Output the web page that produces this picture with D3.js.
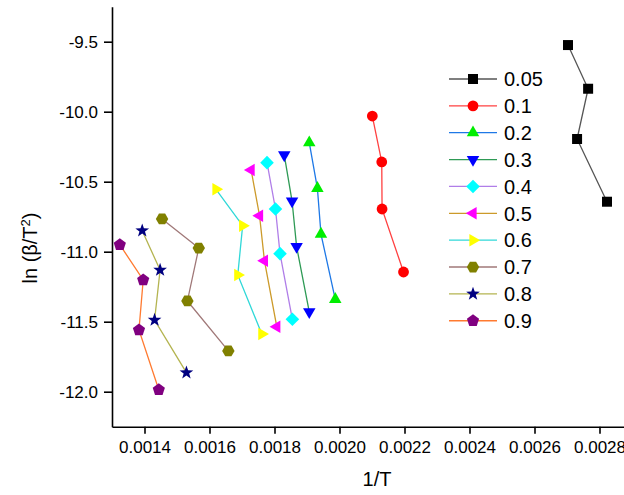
<!DOCTYPE html>
<html><head><meta charset="utf-8">
<script src="https://cdn.jsdelivr.net/npm/d3@7"></script>
<style>html,body{margin:0;padding:0;background:#fff;overflow:hidden}svg{display:block;font-family:Arial,"Liberation Sans",sans-serif}</style>
</head><body>
<svg id="chart" width="624" height="495"></svg>
<script>
// ---- data ----
const seriesLabels = ["0.05","0.1","0.2","0.3","0.4","0.5","0.6","0.7","0.8","0.9"];
const x005 = [0.002703, 0.002765, 0.002731, 0.002823];
const y005 = [-9.524, -9.836, -10.195, -10.643];
const x01 = [0.002101, 0.002130, 0.002131, 0.002197];
const y01 = [-10.031, -10.359, -10.695, -11.145];
const x02 = [0.001907, 0.001932, 0.001943, 0.001987];
const y02 = [-10.221, -10.547, -10.874, -11.340];
const x03 = [0.001830, 0.001854, 0.001868, 0.001907];
const y03 = [-10.309, -10.638, -10.964, -11.429];
const x04 = [0.001777, 0.001803, 0.001817, 0.001855];
const y04 = [-10.364, -10.695, -11.014, -11.483];
const x05 = [0.001728, 0.001754, 0.001769, 0.001807];
const y05 = [-10.416, -10.743, -11.064, -11.536];
const x06 = [0.001620, 0.001702, 0.001687, 0.001761];
const y06 = [-10.554, -10.814, -11.166, -11.588];
const x07 = [0.001454, 0.001567, 0.001532, 0.001658];
const y07 = [-10.766, -10.974, -11.352, -11.709];
const x08 = [0.001393, 0.001448, 0.001431, 0.001529];
const y08 = [-10.850, -11.131, -11.488, -11.864];
const x09 = [0.001324, 0.001396, 0.001383, 0.001444];
const y09 = [-10.950, -11.202, -11.559, -11.986];
const xTicks = [0.0014, 0.0016, 0.0018, 0.0020, 0.0022, 0.0024, 0.0026, 0.0028];
const yTicks = [-9.5, -10.0, -10.5, -11.0, -11.5, -12.0];

// ---- styles ----
const lineColors   = ["#555555","#ff4040","#1e78e6","#2e9a55","#b07ee8","#cc9a2a","#30d8d8","#a07878","#b4b450","#ff7a30"];
const markerColors = ["#000000","#ff0000","#00ee00","#0000ff","#00ffff","#ff00ff","#ffff00","#808000","#000080","#800080"];
const markerShapes = ["square","circle","triUp","triDown","diamond","triLeft","triRight","hexagon","star","pentagon"];

const xsAll = [x005,x01,x02,x03,x04,x05,x06,x07,x08,x09];
const ysAll = [y005,y01,y02,y03,y04,y05,y06,y07,y08,y09];
const series = seriesLabels.map((lab,i)=>({label:lab, pts: xsAll[i].map((x,j)=>({x, y: ysAll[i][j]})),
  line: lineColors[i], fill: markerColors[i], shape: markerShapes[i]}));

function poly(n, r, rot){
  const p=[]; for(let k=0;k<n;k++){const a=rot+k*2*Math.PI/n; p.push([r*Math.cos(a), r*Math.sin(a)]);}
  return "M"+p.map(q=>q[0].toFixed(2)+","+q[1].toFixed(2)).join("L")+"Z";
}
function starPath(ro, ri){
  const p=[]; for(let k=0;k<10;k++){const r=k%2?ri:ro; const a=-Math.PI/2+k*Math.PI/5; p.push([r*Math.cos(a), r*Math.sin(a)]);}
  return "M"+p.map(q=>q[0].toFixed(2)+","+q[1].toFixed(2)).join("L")+"Z";
}
function shapePath(s){
  const t=7.2; // triangle circumradius
  switch(s){
    case "square": return "M-5,-5H5V5H-5Z";
    case "circle": return d3.symbol(d3.symbolCircle, Math.PI*5.4*5.4)();
    case "triUp": return poly(3,t,-Math.PI/2);
    case "triDown": return poly(3,t,Math.PI/2);
    case "triLeft": return poly(3,t,Math.PI);
    case "triRight": return poly(3,t,0);
    case "diamond": return "M0,-6.8L6.8,0L0,6.8L-6.8,0Z";
    case "hexagon": return poly(6,6.2,0);
    case "star": return starPath(7.2,2.9);
    case "pentagon": return poly(5,6.4,-Math.PI/2);
  }
}

const svg = d3.select("#chart");
const x = d3.scaleLinear().domain([0.0013, 0.0029]).range([112, 632]);
const y = d3.scaleLinear().domain([-12.25, -9.25]).range([426.7, 6.7]);

// axes
const xAxis = d3.axisBottom(x).tickValues(xTicks).tickFormat(d3.format(".4f")).tickSizeOuter(0).tickSizeInner(7).tickPadding(7);
const yAxis = d3.axisLeft(y).tickValues(yTicks).tickFormat(d3.format(".1f")).tickSizeOuter(0).tickSizeInner(8).tickPadding(6);
const gx = svg.append("g").attr("transform","translate(0,426.7)").call(xAxis);
const gy = svg.append("g").attr("transform","translate(112,0)").call(yAxis);
[gx,gy].forEach(g=>{
  g.select(".domain").attr("stroke","#000").attr("stroke-width",1.6);
  g.selectAll(".tick line").attr("stroke","#000").attr("stroke-width",1.6);
  g.selectAll(".tick text").attr("fill","#000").style("font-size","17px").style("font-family","Arial, 'Liberation Sans', sans-serif");
});
gy.selectAll(".tick text").text(d=>d3.format(".1f")(d).replace("−","-"));

// axis titles
svg.append("text").attr("x",377).attr("y",486).attr("text-anchor","middle").style("font-size","20px").text("1/T");
const yt = svg.append("text").attr("transform","translate(37,248) rotate(-90)").attr("text-anchor","middle").style("font-size","20px");
yt.append("tspan").text("ln (β/T");
yt.append("tspan").attr("dy",-7).style("font-size","13px").text("2");
yt.append("tspan").attr("dy",7).text(")");

// lines + markers
const lineGen = d3.line().x(d=>x(d.x)).y(d=>y(d.y));
const gs = svg.append("g").selectAll("g").data(series).join("g");
gs.append("path").attr("d",d=>lineGen(d.pts)).attr("fill","none").attr("stroke",d=>d.line).attr("stroke-width",1.3);
gs.each(function(s){
  d3.select(this).selectAll("path.m").data(s.pts).join("path").attr("class","m")
    .attr("d",shapePath(s.shape)).attr("transform",d=>`translate(${x(d.x)},${y(d.y)})`).attr("fill",s.fill);
});

// legend
const lg = svg.append("g").selectAll("g").data(series).join("g")
  .attr("transform",(d,i)=>`translate(0,${79+i*26.86})`);
lg.append("line").attr("x1",449).attr("x2",497).attr("stroke",d=>d.line).attr("stroke-width",1.3);
lg.append("path").attr("d",d=>shapePath(d.shape)).attr("transform","translate(473,0)").attr("fill",d=>d.fill);
lg.append("text").attr("x",504).attr("y",7.2).style("font-size","20px").text(d=>d.label);
</script>
</body></html>
